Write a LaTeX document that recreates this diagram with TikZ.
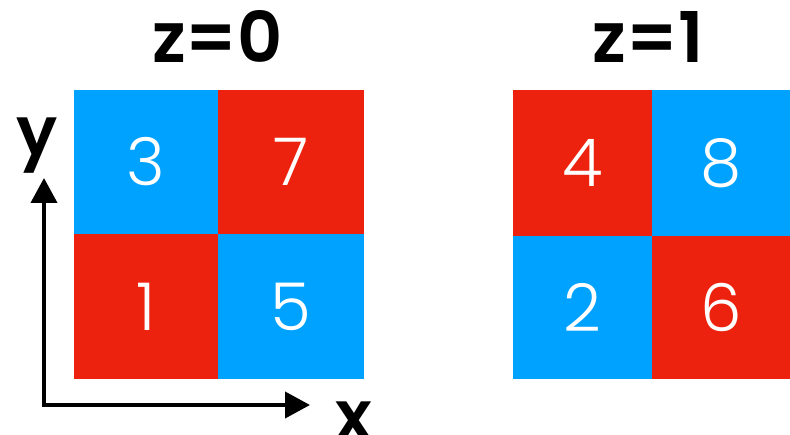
\documentclass[tikz,border=0pt]{standalone}
\usepackage{fontspec}
\setmainfont{Poppins}[BoldFont={* SemiBold}]
\newfontfamily\thinfont{Poppins Light}
\usetikzlibrary{arrows.meta}
\definecolor{cblue}{RGB}{0,162,255}
\definecolor{cred}{RGB}{237,34,14}
\begin{document}
\begin{tikzpicture}[x=1pt,y=-1pt,
  cell/.style={rectangle,inner sep=0,outer sep=0,text=white,font=\thinfont\fontsize{66}{66}\selectfont},
  bluecell/.style={cell,fill=cblue},
  redcell/.style={cell,fill=cred},
  title/.style={font=\bfseries\fontsize{70}{70}\selectfont,anchor=base,inner sep=0},
  axislabel/.style={font=\bfseries\fontsize{68}{68}\selectfont,anchor=base,inner sep=0},
  axis/.style={line width=4pt,line join=miter,{Triangle[length=25pt,width=26pt]}-{Triangle[length=25pt,width=26pt]}}]
\useasboundingbox (0,0) rectangle (790,435);
% left grid z=0
\node[bluecell,minimum width=144pt,minimum height=144pt] (c3) at (146,162) {3};
\node[redcell,minimum width=146pt,minimum height=144pt] (c7) at (291,162) {7};
\node[redcell,minimum width=144pt,minimum height=145pt] (c1) at (146,306.5) {1};
\node[bluecell,minimum width=146pt,minimum height=145pt] (c5) at (291,306.5) {5};
% right grid z=1
\node[redcell,minimum width=139pt,minimum height=146pt] (c4) at (582.5,163) {4};
\node[bluecell,minimum width=138pt,minimum height=146pt] (c8) at (721,163) {8};
\node[bluecell,minimum width=139pt,minimum height=143pt] (c2) at (582.5,307.5) {2};
\node[redcell,minimum width=138pt,minimum height=143pt] (c6) at (721,307.5) {6};
% titles
\node[title] (t0) at (217.5,63) {z=0};
\node[title] (t1) at (648,63) {z=1};
% axes
\coordinate (o) at (44,405);
\coordinate (ytip) at (44,178);
\coordinate (xtip) at (310,405);
\draw[axis] (ytip) -- (o) -- (xtip);
\node[axislabel] (ylab) at (37.5,156) {y};
\node[axislabel] (xlab) at (354,439) {x};
\end{tikzpicture}
\end{document}
